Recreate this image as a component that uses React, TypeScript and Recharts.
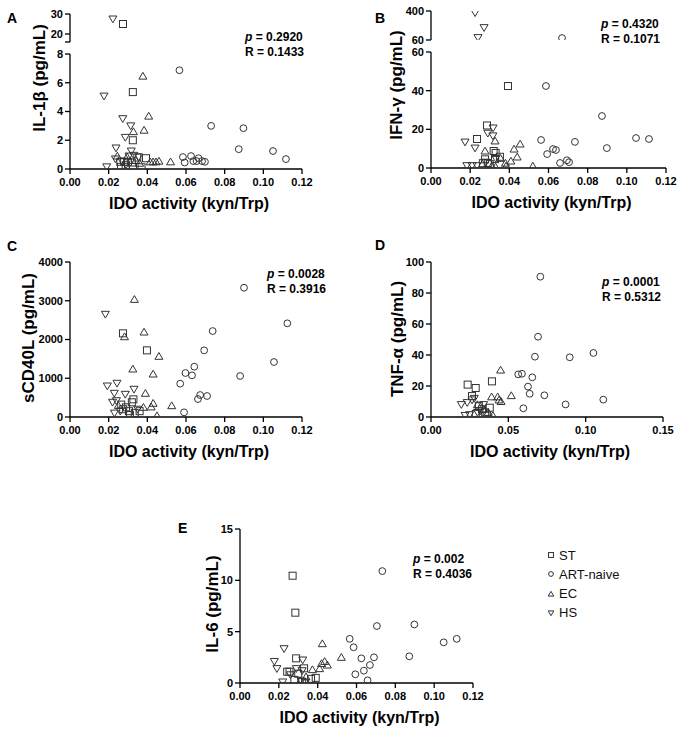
import React from 'react';
import { ScatterChart, Scatter, XAxis, YAxis, Label, Legend } from 'recharts';

type Pt = [number, number];

const groupNames = ['ST', 'ART-naive', 'EC', 'HS'];
const idoTicks = [0, 0.02, 0.04, 0.06, 0.08, 0.1, 0.12];
const idoTicksWide = [0, 0.05, 0.1, 0.15];

// A - IL-1β
const il1bST: Pt[] = [[0.0274, 25], [0.0325, 5.35], [0.0325, 2.0], [0.0393, 0.75], [0.0348, 0.8], [0.026, 0.5], [0.028, 0.5], [0.03, 0.5], [0.032, 0.45], [0.0264, 0.15], [0.0288, 0.15], [0.0326, 0.15], [0.037, 0.12]];
const il1bART: Pt[] = [[0.0566, 6.87], [0.073, 3.0], [0.0897, 2.84], [0.0873, 1.38], [0.105, 1.25], [0.1117, 0.69], [0.0584, 0.83], [0.0593, 0.45], [0.0626, 0.9], [0.0638, 0.55], [0.0655, 0.55], [0.0665, 0.75], [0.0683, 0.55], [0.0698, 0.5]];
const il1bEC: Pt[] = [[0.0377, 6.46], [0.0407, 3.68], [0.0328, 2.6], [0.0383, 2.7], [0.0245, 0.9], [0.0295, 0.85], [0.034, 0.6], [0.043, 0.5], [0.0445, 0.5], [0.046, 0.55], [0.052, 0.5], [0.0415, 0.5], [0.036, 0.4]];
const il1bHS: Pt[] = [[0.0222, 27.5], [0.0176, 5.07], [0.0273, 3.5], [0.0314, 3.0], [0.0286, 2.2], [0.0238, 1.46], [0.0317, 1.25], [0.019, 0.15], [0.0235, 0.7], [0.0268, 0.55], [0.033, 0.95], [0.0355, 0.85], [0.029, 0.3], [0.0305, 0.9]];

// B - IFN-γ
const ifngST: Pt[] = [[0.0393, 42.4], [0.0286, 22], [0.0235, 15], [0.032, 8.8], [0.0276, 4.5], [0.029, 2.6], [0.0327, 4.6], [0.0352, 5.8], [0.033, 7.8], [0.0265, 2.5], [0.03, 2]];
const ifngART: Pt[] = [[0.0669, 83], [0.0587, 42.4], [0.0873, 26.9], [0.1047, 15.5], [0.1113, 15], [0.0735, 13.5], [0.0562, 14.5], [0.0898, 10.3], [0.0593, 7.2], [0.0623, 9.8], [0.0638, 9.3], [0.0659, 2.6], [0.0694, 4], [0.0705, 3]];
const ifngEC: Pt[] = [[0.0327, 14], [0.0276, 8.8], [0.0455, 12.4], [0.0424, 9.8], [0.044, 5.7], [0.0408, 3.6], [0.052, 1], [0.0383, 1], [0.031, 1], [0.0355, 5], [0.038, 2.5], [0.033, 0.5]];
const ifngHS: Pt[] = [[0.0225, 380], [0.0271, 205], [0.024, 88], [0.0317, 20.7], [0.029, 18], [0.0316, 16.6], [0.0174, 13.4], [0.0225, 10.3], [0.0183, 1.2], [0.021, 1.2], [0.0235, 1.2], [0.028, 3], [0.033, 5]];

// C - sCD40L
const cd40ST: Pt[] = [[0.0274, 2159], [0.0398, 1720], [0.0328, 456], [0.0275, 200], [0.029, 250], [0.0305, 150], [0.032, 380], [0.0335, 100], [0.036, 150], [0.0265, 320], [0.031, 50]];
const cd40ART: Pt[] = [[0.09, 3336], [0.1124, 2417], [0.0738, 2218], [0.0694, 1720], [0.1055, 1419], [0.0643, 1298], [0.0597, 1135], [0.0631, 1075], [0.088, 1058], [0.057, 860], [0.0673, 567], [0.0709, 542], [0.0662, 464], [0.059, 120]];
const cd40EC: Pt[] = [[0.0333, 3036], [0.0383, 2193], [0.0282, 2072], [0.046, 1566], [0.0325, 1238], [0.043, 1109], [0.039, 611], [0.043, 354], [0.0526, 292], [0.045, 34], [0.042, 260], [0.038, 250], [0.025, 300]];
const cd40HS: Pt[] = [[0.0183, 2650], [0.0193, 800], [0.0243, 870], [0.0331, 715], [0.0286, 585], [0.0229, 611], [0.024, 420], [0.023, 100], [0.026, 150], [0.035, 200], [0.022, 380]];

// D - TNF-α
const tnfST: Pt[] = [[0.0237, 20.9], [0.0289, 18.7], [0.0394, 23], [0.0265, 13.5], [0.031, 7], [0.033, 5], [0.035, 3], [0.038, 6], [0.029, 2], [0.036, 1]];
const tnfART: Pt[] = [[0.0707, 90.5], [0.0692, 51.8], [0.0672, 38.9], [0.0897, 38.5], [0.105, 41.3], [0.0564, 27.5], [0.0588, 27.9], [0.0655, 25.6], [0.0627, 19.6], [0.0638, 15], [0.0733, 14], [0.087, 8.1], [0.1114, 11.2], [0.0597, 5.6]];
const tnfEC: Pt[] = [[0.045, 30.3], [0.0519, 13.8], [0.0431, 13], [0.044, 11], [0.0453, 10], [0.0392, 13], [0.03, 8], [0.034, 5], [0.04, 1], [0.037, 3]];
const tnfHS: Pt[] = [[0.0196, 8], [0.0234, 9.3], [0.0265, 11], [0.022, 1], [0.025, 1.5], [0.028, 12], [0.032, 4], [0.034, 8], [0.03, 3]];

// E - IL-6
const il6ST: Pt[] = [[0.0271, 10.45], [0.0285, 6.85], [0.0289, 2.4], [0.033, 1.43], [0.0243, 1.1], [0.0255, 1.1], [0.039, 0.5], [0.0366, 0.4], [0.03, 0.9], [0.028, 0.3], [0.032, 0.1], [0.0335, 0.05]];
const il6ART: Pt[] = [[0.0733, 10.9], [0.0705, 5.55], [0.0898, 5.7], [0.1049, 3.96], [0.1116, 4.3], [0.0565, 4.3], [0.0585, 3.48], [0.0625, 2.4], [0.069, 2.5], [0.0872, 2.6], [0.0669, 1.75], [0.0638, 1.2], [0.0594, 0.85], [0.0657, 0.26]];
const il6EC: Pt[] = [[0.0424, 3.83], [0.0522, 2.5], [0.0436, 2.1], [0.045, 1.75], [0.042, 1.9], [0.041, 1.4], [0.0373, 1.3], [0.034, 0.6], [0.031, 0.2]];
const il6HS: Pt[] = [[0.0227, 3.34], [0.0177, 2.1], [0.019, 1.4], [0.0323, 2.24], [0.032, 1.2], [0.022, 0.1], [0.026, 0.8], [0.029, 1.4], [0.0315, 0.2]];

const FONT = "'Liberation Sans', Arial, Helvetica, sans-serif";
const INK = '#000';
const MARK = '#333';

function Marker({ kind, cx, cy, s = 1 }: { kind: string; cx: number; cy: number; s?: number }) {
  if (cx == null || cy == null) return null;
  if (kind === 'ST') {
    const h = 3.5 * s;
    return <rect x={cx - h} y={cy - h} width={2 * h} height={2 * h} fill="none" stroke={MARK} strokeWidth={1} />;
  }
  if (kind === 'ART-naive') {
    return <circle cx={cx} cy={cy} r={3.4 * s} fill="none" stroke={MARK} strokeWidth={1} />;
  }
  const w = 4 * s;
  const up = kind === 'EC';
  const d = up
    ? `M${cx},${cy - 3.8 * s} L${cx + w},${cy + 3 * s} L${cx - w},${cy + 3 * s} Z`
    : `M${cx},${cy + 3.8 * s} L${cx + w},${cy - 3 * s} L${cx - w},${cy - 3 * s} Z`;
  return <path d={d} fill="none" stroke={MARK} strokeWidth={1} />;
}

const tickStyle = { fill: INK, fontSize: 11, fontWeight: 'bold' as const, fontFamily: FONT };

interface SegProps {
  axisX: number;
  chartTop: number;
  plotTop: number;
  plotBottom: number;
  plotRight: number;
  xDomain: [number, number];
  xTicks: number[];
  yDomain: [number, number];
  yTicks: number[];
  series: Pt[][];
  showX?: boolean;
  yLabel?: { text: string; cx: number; cy: number };
  blankTick?: number;
  legend?: boolean;
}

const YAW = 70;

function Segment(p: SegProps) {
  const chartLeft = p.axisX - YAW;
  const marginTop = p.plotTop - p.chartTop;
  const h = p.plotBottom - p.plotTop;
  const xh = p.showX ? 50 : 0;
  const mb = p.showX ? 0 : 8;
  const mr = p.legend ? 210 : 20;
  const width = YAW + (p.plotRight - p.axisX) + mr;
  const height = marginTop + h + xh + mb;
  const xFmt = (v: number) => v.toFixed(2);

  const renderLegend = (props: any) => {
    const items = [...(props.payload || [])].sort(
      (a: any, b: any) => groupNames.indexOf(a.value) - groupNames.indexOf(b.value)
    );
    return (
      <div style={{ fontFamily: FONT, fontSize: 13, color: '#111' }}>
        {items.map((e: any) => (
          <div key={e.value} style={{ height: 19.3, display: 'flex', alignItems: 'center' }}>
            <svg width={12} height={12} style={{ marginRight: 2 }}>
              <Marker kind={e.value} cx={6} cy={6} s={0.7} />
            </svg>
            <span>{e.value}</span>
          </div>
        ))}
      </div>
    );
  };

  return (
    <div style={{ position: 'absolute', left: chartLeft, top: p.chartTop }}>
      <ScatterChart width={width} height={height} margin={{ top: marginTop, right: mr, bottom: mb, left: 0 }}>
        <XAxis
          type="number"
          dataKey="x"
          domain={p.xDomain}
          ticks={p.xTicks}
          tickFormatter={xFmt}
          hide={!p.showX}
          height={xh}
          stroke={INK}
          strokeWidth={1.3}
          tickSize={5}
          tickMargin={4}
          tick={tickStyle}
          allowDataOverflow
        >
          {p.showX && (
            <Label
              content={(lp: any) => {
                const vb = lp.viewBox || {};
                return (
                  <text x={vb.x + vb.width / 2 + 3} y={vb.y + 40} textAnchor="middle" fontFamily={FONT} fontWeight="bold" fontSize={16} fill={INK}>
                    IDO activity (kyn/Trp)
                  </text>
                );
              }}
            />
          )}
        </XAxis>
        <YAxis
          type="number"
          dataKey="y"
          domain={p.yDomain}
          ticks={p.yTicks}
          width={YAW}
          stroke={INK}
          strokeWidth={1.3}
          tickSize={5}
          tickMargin={2}
          tick={tickStyle}
          tickFormatter={(v: number) => (v === p.blankTick ? '' : String(v))}
          interval={0}
          allowDataOverflow
        >
          {p.yLabel && (
            <Label
              content={() => {
                const lx = p.yLabel!.cx - chartLeft + 6;
                const ly = p.yLabel!.cy - p.chartTop;
                return (
                  <text x={lx} y={ly} transform={`rotate(-90, ${lx}, ${ly})`} textAnchor="middle" fontFamily={FONT} fontWeight="bold" fontSize={17} fill={INK}>
                    {p.yLabel!.text}
                  </text>
                );
              }}
            />
          )}
        </YAxis>
        {p.series.map((pts, i) => (
          <Scatter
            key={groupNames[i]}
            name={groupNames[i]}
            data={pts.map(([x, y]) => ({ x, y }))}
            fill="none"
            isAnimationActive={false}
            shape={(sp: any) => <Marker kind={groupNames[i]} cx={sp.cx} cy={sp.cy} />}
          />
        ))}
        {p.legend && (
          <Legend
            layout="vertical"
            align="center"
            verticalAlign="middle"
            content={renderLegend}
            wrapperStyle={{ left: 545 - chartLeft, top: 545.4 - p.chartTop, width: 120 }}
          />
        )}
      </ScatterChart>
    </div>
  );
}

const above = (pts: Pt[], cut: number) => pts.filter((d) => d[1] > cut);
const below = (pts: Pt[], cut: number) => pts.filter((d) => d[1] <= cut);

function Stats({ left, top, p, r }: { left: number; top: number; p: string; r: string }) {
  return (
    <div style={{ position: 'absolute', left, top, fontFamily: FONT, fontWeight: 'bold', fontSize: 12, lineHeight: '14.5px', color: INK, whiteSpace: 'nowrap' }}>
      <div><i>p</i> = {p}</div>
      <div>R = {r}</div>
    </div>
  );
}

function Letter({ left, top, t }: { left: number; top: number; t: string }) {
  return (
    <div style={{ position: 'absolute', left, top, fontFamily: FONT, fontWeight: 'bold', fontSize: 14, lineHeight: '14px', color: INK }}>{t}</div>
  );
}

export default function App() {
  const A = [il1bST, il1bART, il1bEC, il1bHS];
  const B = [ifngST, ifngART, ifngEC, ifngHS];
  return (
    <div style={{ position: 'absolute', left: 0, top: 0, width: 683, height: 732, background: '#fff', overflow: 'hidden' }}>
      {/* A */}
      <Segment axisX={70} chartTop={4} plotTop={14} plotBottom={42} plotRight={302} xDomain={[0, 0.12]} xTicks={idoTicks}
        yDomain={[16, 30]} yTicks={[16, 20, 30]} blankTick={16} series={A.map((s) => above(s, 8))} />
      <Segment axisX={70} chartTop={0} plotTop={54} plotBottom={169} plotRight={302} xDomain={[0, 0.12]} xTicks={idoTicks}
        yDomain={[0, 8]} yTicks={[0, 2, 4, 6, 8]} series={A.map((s) => below(s, 8))} showX
        yLabel={{ text: 'IL-1β (pg/mL)', cx: 38.5, cy: 78 }} />
      {/* B */}
      <Segment axisX={431} chartTop={1} plotTop={11} plotBottom={40} plotRight={666} xDomain={[0, 0.12]} xTicks={idoTicks}
        yDomain={[60, 400]} yTicks={[60, 400]} series={B.map((s) => above(s, 60))} />
      <Segment axisX={431} chartTop={0} plotTop={52} plotBottom={168} plotRight={666} xDomain={[0, 0.12]} xTicks={idoTicks}
        yDomain={[0, 60]} yTicks={[0, 20, 40, 60]} series={B.map((s) => below(s, 60))} showX
        yLabel={{ text: 'IFN-γ (pg/mL)', cx: 396, cy: 85 }} />
      {/* C */}
      <Segment axisX={70} chartTop={232} plotTop={262} plotBottom={417} plotRight={302} xDomain={[0, 0.12]} xTicks={idoTicks}
        yDomain={[0, 4000]} yTicks={[0, 1000, 2000, 3000, 4000]} series={[cd40ST, cd40ART, cd40EC, cd40HS]} showX
        yLabel={{ text: 'sCD40L (pg/mL)', cx: 28, cy: 338 }} />
      {/* D */}
      <Segment axisX={431} chartTop={232} plotTop={262} plotBottom={417} plotRight={663} xDomain={[0, 0.15]} xTicks={idoTicksWide}
        yDomain={[0, 100]} yTicks={[0, 20, 40, 60, 80, 100]} series={[tnfST, tnfART, tnfEC, tnfHS]} showX
        yLabel={{ text: 'TNF-α (pg/mL)', cx: 397, cy: 339 }} />
      {/* E */}
      <Segment axisX={240} chartTop={500} plotTop={529} plotBottom={683} plotRight={473} xDomain={[0, 0.12]} xTicks={idoTicks}
        yDomain={[0, 15]} yTicks={[0, 5, 10, 15]} series={[il6ST, il6ART, il6EC, il6HS]} showX legend
        yLabel={{ text: 'IL-6 (pg/mL)', cx: 211.5, cy: 604 }} />

      <Letter left={7} top={10.6} t="A" />
      <Letter left={375} top={10.6} t="B" />
      <Letter left={7} top={239} t="C" />
      <Letter left={375} top={238} t="D" />
      <Letter left={178} top={521} t="E" />

      <Stats left={245} top={30} p="0.2920" r="0.1433" />
      <Stats left={601} top={17} p="0.4320" r="0.1071" />
      <Stats left={267} top={267} p="0.0028" r="0.3916" />
      <Stats left={602} top={275} p="0.0001" r="0.5312" />
      <Stats left={413} top={552} p="0.002" r="0.4036" />
    </div>
  );
}
